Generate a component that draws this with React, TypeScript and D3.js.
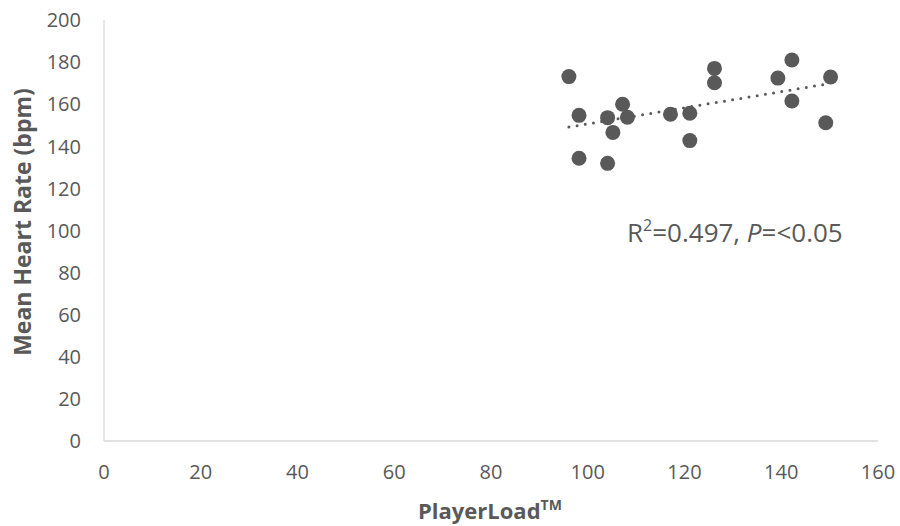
import React from "react";
import * as d3 from "d3";

// PlayerLoad (x) and mean heart rate in bpm (y) for each session
const playerLoad = [96.1, 98.2, 98.2, 104.1, 104.1, 105.2, 107.2, 108.2, 117.1, 121.1, 121.1, 126.2, 126.2, 139.3, 142.2, 142.2, 150.2, 149.2];
const heartRate = [173.1, 154.7, 134.3, 153.6, 131.9, 146.6, 160.0, 153.8, 155.2, 155.7, 142.7, 177.0, 170.2, 172.4, 181.0, 161.5, 172.9, 151.2];

const xTicks = [0, 20, 40, 60, 80, 100, 120, 140, 160];
const yTicks = [0, 20, 40, 60, 80, 100, 120, 140, 160, 180, 200];

const W = 900;
const H = 526;
const plot = { left: 104, right: 878, top: 20, bottom: 441 };
const textColor = "#595959";
const font = "'Open Sans', 'Liberation Sans', sans-serif";

export default function App() {
  const x = d3.scaleLinear().domain([0, 160]).range([plot.left, plot.right]);
  const y = d3.scaleLinear().domain([0, 200]).range([plot.bottom, plot.top]);

  const points = playerLoad.map((v, i) => ({ x: v, y: heartRate[i] }));

  // least-squares linear trend
  const mx = d3.mean(playerLoad) as number;
  const my = d3.mean(heartRate) as number;
  const sxy = d3.sum(points, (p) => (p.x - mx) * (p.y - my));
  const sxx = d3.sum(points, (p) => (p.x - mx) ** 2);
  const slope = sxy / sxx;
  const intercept = my - slope * mx;
  const [x0, x1] = d3.extent(playerLoad) as [number, number];
  const trend = d3.line<number>().x((v) => x(v)).y((v) => y(intercept + slope * v));

  return (
    <svg width={W} height={H} style={{ position: "absolute", left: 0, top: 0, background: "#fff" }} fontFamily={font}>
      {/* axes */}
      <line x1={plot.left} x2={plot.left} y1={plot.top} y2={plot.bottom} stroke="#d9d9d9" strokeWidth={1.3} />
      <line x1={plot.left} x2={plot.right} y1={plot.bottom} y2={plot.bottom} stroke="#d9d9d9" strokeWidth={1.3} />

      {yTicks.map((t) => (
        <text key={t} x={81} y={y(t)} dy="0.36em" textAnchor="end" fontSize={20} fill={textColor}>
          {t}
        </text>
      ))}
      {xTicks.map((t) => (
        <text key={t} x={x(t)} y={479} textAnchor="middle" fontSize={20} fill={textColor}>
          {t}
        </text>
      ))}

      {/* axis titles */}
      <text transform={`translate(31, 222) rotate(-90)`} textAnchor="middle" fontSize={23} fontWeight="bold" fill={textColor}>
        Mean Heart Rate (bpm)
      </text>
      <text x={418} y={519} fontSize={22} fontWeight="bold" fill={textColor}>
        PlayerLoad
        <tspan fontSize={14} dy={-9}>TM</tspan>
      </text>

      {/* points */}
      {points.map((p, i) => (
        <circle key={i} cx={x(p.x)} cy={y(p.y)} r={7.5} fill="#595959" />
      ))}

      {/* trend line */}
      <path d={trend([x0, x1]) as string} fill="none" stroke="#595959" strokeWidth={3} strokeDasharray="0 8.3" strokeLinecap="round" />

      {/* fit statistics */}
      <text x={627} y={242} fontSize={26} fill={textColor}>
        R<tspan fontSize={16} dy={-11}>2</tspan>
        <tspan dy={11}>=0.497, </tspan>
        <tspan fontStyle="italic">P</tspan>=&lt;0.05
      </text>
    </svg>
  );
}
